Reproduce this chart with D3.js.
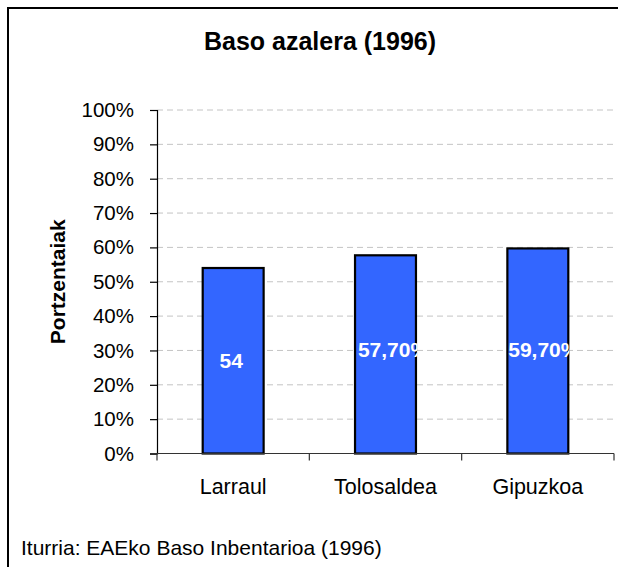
<!DOCTYPE html>
<html>
<head>
<meta charset="utf-8">
<script src="https://cdn.jsdelivr.net/npm/d3@7"></script>
<style>
  html, body { margin: 0; padding: 0; background: #fff; }
  svg { display: block; font-family: Arial, "Liberation Sans", sans-serif; }
</style>
</head>
<body>
<svg id="chart" width="618" height="567"></svg>
<script>
// Forest cover share by area
const categories = ["Larraul", "Tolosaldea", "Gipuzkoa"];
const values = [54, 57.7, 59.7];
const valueLabels = ["54", "57,70%", "59,70%"];
const yTicks = [0, 10, 20, 30, 40, 50, 60, 70, 80, 90, 100];
const titleText = "Baso azalera (1996)";
const yTitleText = "Portzentaiak";
const sourceText = "Iturria: EAEko Baso Inbentarioa (1996)";

// Label placement relative to each bar (dx from bar centre, extra dy in px)
const labelDx = [-2, 8, 6];
const labelDy = [0, -4.5, -1];

const svg = d3.select("#chart");
const W = 618, H = 567;
const plot = { left: 157, right: 614, top: 110, bottom: 453.5 };

// Outer frame (runs past the right and bottom edges)
svg.append("rect")
  .attr("x", 8).attr("y", 8)
  .attr("width", W + 20).attr("height", H + 20)
  .attr("fill", "#fff").attr("stroke", "#000").attr("stroke-width", 2);

const x = d3.scaleBand().domain(categories).range([plot.left, plot.right]).padding(0);
const y = d3.scaleLinear().domain([0, 100]).range([plot.bottom, plot.top]);
const barW = x.bandwidth() * 0.4;
const barX = d => x(d) + (x.bandwidth() - barW) / 2;

// Dashed gridlines
svg.append("g").selectAll("line")
  .data(yTicks.filter(t => t > 0))
  .join("line")
  .attr("x1", plot.left).attr("x2", plot.right)
  .attr("y1", d => y(d)).attr("y2", d => y(d))
  .attr("stroke", "#c4c4c4").attr("stroke-width", 1)
  .attr("stroke-dasharray", "6,4");

// Y axis
const yAxis = svg.append("g")
  .attr("transform", `translate(${plot.left},0)`)
  .call(d3.axisLeft(y).tickValues(yTicks).tickSize(7).tickPadding(16)
    .tickFormat(d => d + "%"));
yAxis.select(".domain").attr("stroke", "#000").attr("stroke-width", 1.2);
yAxis.selectAll(".tick line").attr("stroke", "#000").attr("stroke-width", 1.2);
yAxis.selectAll(".tick text")
  .attr("font-size", 20.5).attr("fill", "#000")
  .attr("font-family", "Arial, 'Liberation Sans', sans-serif");

// Bars
svg.append("g").selectAll("rect")
  .data(categories)
  .join("rect")
  .attr("x", d => barX(d))
  .attr("y", (d, i) => y(values[i]))
  .attr("width", barW)
  .attr("height", (d, i) => y(0) - y(values[i]))
  .attr("fill", "#3366FF")
  .attr("stroke", "#000")
  .attr("stroke-width", 2.2);

// X axis
const xAxisG = svg.append("g").attr("transform", `translate(0,${plot.bottom})`);
xAxisG.append("line")
  .attr("x1", plot.left).attr("x2", plot.right)
  .attr("y1", 0).attr("y2", 0)
  .attr("stroke", "#333").attr("stroke-width", 1.2);
const boundaries = categories.map(c => x(c)).concat([x(categories[categories.length - 1]) + x.bandwidth()]);
xAxisG.selectAll("line.tk")
  .data(boundaries)
  .join("line")
  .attr("class", "tk")
  .attr("x1", d => d).attr("x2", d => d)
  .attr("y1", 0).attr("y2", 7)
  .attr("stroke", "#333").attr("stroke-width", 1.2);
xAxisG.selectAll("text")
  .data(categories)
  .join("text")
  .attr("x", d => x(d) + x.bandwidth() / 2)
  .attr("y", 40)
  .attr("text-anchor", "middle")
  .attr("font-size", 21.5)
  .attr("fill", "#000")
  .text(d => d);

// Value labels, clipped to their bars
const defs = svg.append("defs");
categories.forEach((c, i) => {
  defs.append("clipPath").attr("id", "clip" + i)
    .append("rect")
    .attr("x", barX(c) - 1.1)
    .attr("y", y(values[i]) - 1.1)
    .attr("width", barW + 2.2)
    .attr("height", y(0) - y(values[i]) + 2.2);
});
svg.append("g").selectAll("text")
  .data(categories)
  .join("text")
  .attr("clip-path", (d, i) => `url(#clip${i})`)
  .attr("x", (d, i) => x(d) + x.bandwidth() / 2 + labelDx[i])
  .attr("y", (d, i) => y(values[i] / 2) + labelDy[i] + 7)
  .attr("text-anchor", "middle")
  .attr("font-size", 21)
  .attr("font-weight", "bold")
  .attr("fill", "#fff")
  .text((d, i) => valueLabels[i]);

// Title
svg.append("text")
  .attr("x", 320).attr("y", 50)
  .attr("text-anchor", "middle")
  .attr("font-size", 25)
  .attr("font-weight", "bold")
  .attr("fill", "#000")
  .text(titleText);

// Y axis title
svg.append("text")
  .attr("transform", `translate(65,${(plot.top + plot.bottom) / 2}) rotate(-90)`)
  .attr("text-anchor", "middle")
  .attr("font-size", 21)
  .attr("font-weight", "bold")
  .attr("fill", "#000")
  .text(yTitleText);

// Source note
svg.append("text")
  .attr("x", 21).attr("y", 555)
  .attr("font-size", 21)
  .attr("fill", "#000")
  .text(sourceText);
</script>
</body>
</html>
